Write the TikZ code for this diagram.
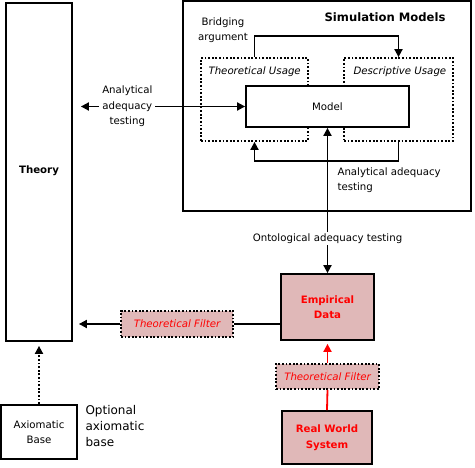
\documentclass[tikz,border=0pt]{standalone}
\usepackage{fontspec}
\setmainfont{DejaVu Sans}
\usetikzlibrary{arrows.meta,calc}
\definecolor{pinkfill}{RGB}{224,184,184}
\tikzset{
  box/.style={draw=black,line width=1.8pt,minimum width=#1,inner sep=0pt},
  dotbox/.style={draw=black,line width=1.8pt,dash pattern=on 1.8pt off 1.8pt},
  arr/.style={line width=1.8pt,-{Triangle[length=8pt,width=8pt]}},
  darr/.style={line width=1.8pt,{Triangle[length=8pt,width=8pt]}-{Triangle[length=8pt,width=8pt]}},
  plainline/.style={line width=1.8pt},
  lbl/.style={font=\fontsize{10.2}{15.5}\selectfont,align=center},
  redtxt/.style={text=red,font=\fontsize{10.2}{15.5}\selectfont\bfseries,align=center},
}
\begin{document}
\begin{tikzpicture}[x=1pt,y=-1pt]
\useasboundingbox (0,0) rectangle (475,468);
% main boxes
\node[box=66pt,minimum height=338pt] (theory) at (39,172) {};
\node[lbl,font=\fontsize{10.2}{12}\selectfont\bfseries] (theorytxt) at (39,171) {Theory};
\node[box=288pt,minimum height=210pt] (sim) at (327,106) {};
\node[font=\fontsize{11.6}{13}\selectfont\bfseries,anchor=east] (simtxt) at (449,17) {Simulation Models};
\node[dotbox,minimum width=107pt,minimum height=83pt] (tu) at (254.5,99.5) {};
\node[font=\fontsize{10.2}{12}\selectfont\itshape,anchor=west] (tutxt) at (205,72) {Theoretical Usage};
\node[dotbox,minimum width=109pt,minimum height=83pt] (du) at (398.5,99.5) {};
\node[font=\fontsize{10.2}{12}\selectfont\itshape,anchor=west] (dutxt) at (350,72) {Descriptive Usage};
\node[box=163pt,minimum height=41pt,fill=white,lbl] (model) at (327.5,106.5) {Model};
% empirical side
\node[box=93pt,minimum height=66pt,fill=pinkfill,redtxt] (ed) at (327.5,307) {Empirical\\Data};
\node[dotbox,minimum width=112pt,minimum height=26pt,fill=pinkfill,text=red,font=\fontsize{10.2}{12}\selectfont\itshape] (tf1) at (177,324) {Theoretical Filter};
\node[dotbox,minimum width=103pt,minimum height=25pt,fill=pinkfill,text=red,font=\fontsize{10.2}{12}\selectfont\itshape] (tf2) at (327.5,376.5) {Theoretical Filter};
\node[box=90pt,minimum height=53pt,fill=pinkfill,redtxt] (rws) at (327,437.5) {Real World\\System};
\node[box=76pt,minimum height=54pt,lbl] (ab) at (39,432) {Axiomatic\\Base};
\node[font=\fontsize{12}{16}\selectfont,align=left,anchor=west] (abtxt) at (82,426) {Optional\\axiomatic\\base};
% connectors
\draw[darr,shorten >=8pt] (model.west) -- (theory.east |- model.west)
  node[pos=0.684,fill=white,lbl,inner sep=3pt] (aat1) {Analytical\\adequacy\\testing};
\draw[arr] (tu.north) -- ++(0,-21) -| (du.north);
\node[lbl] (bridge) at (223,30) {Bridging\\argument};
\draw[arr] (du.south) -- ++(0,19) -| (tu.south);
\node[lbl,align=left,anchor=west] (aat2) at (334,180) {Analytical adequacy\\testing};
\draw[darr] (ed.north) -- (model.south)
  node[pos=0.238,fill=white,lbl,inner sep=2pt] (oat) {Ontological adequacy testing};
\draw[plainline] (ed.west |- tf1.east) -- (tf1.east);
\draw[arr,shorten >=6pt] (tf1.west) -- (theory.east |- tf1.west);
\draw[plainline,red] (rws.north) -- (tf2.south);
\draw[arr,red,shorten >=3pt] (tf2.north) -- (ed.south);
\draw[arr,dash pattern=on 1.8pt off 1.8pt,shorten >=4pt] (ab.north) -- (theory.south);
\end{tikzpicture}
\end{document}
